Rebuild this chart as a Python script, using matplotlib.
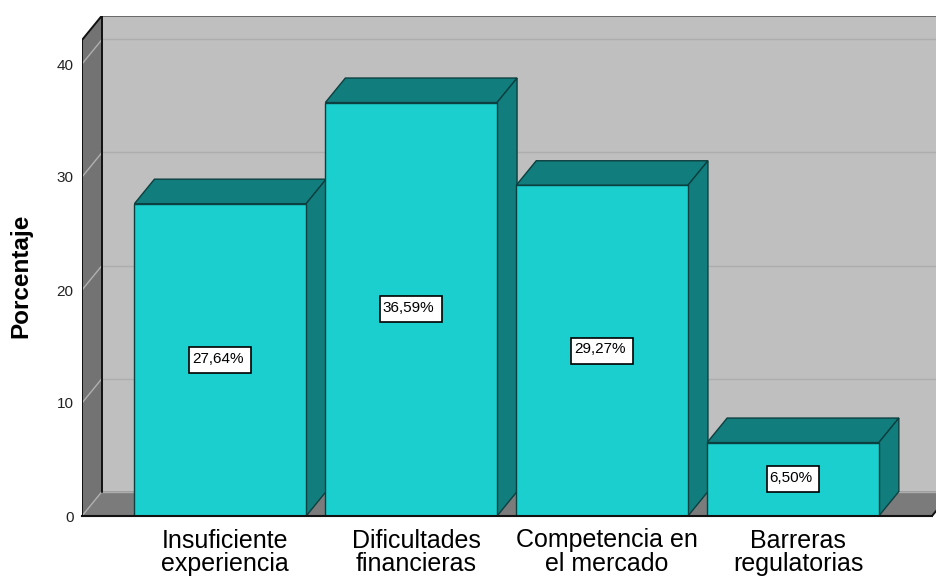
import matplotlib
matplotlib.use("Agg")
import matplotlib.pyplot as plt
from matplotlib.patches import Rectangle
from matplotlib.transforms import ScaledTranslation

plt.rcParams['font.family'] = ['Liberation Sans', 'DejaVu Sans']

categories = ["Insuficiente\nexperiencia", "Dificultades\nfinancieras",
              "Competencia en\nel mercado", "Barreras\nregulatorias"]
values = [27.64, 36.59, 29.27, 6.50]
value_labels = ["27,64%", "36,59%", "29,27%", "6,50%"]
y_ticks = [0, 10, 20, 30, 40]

W, H = 937, 576
PX_X = 190.9          # pixels per category
PX_Y = 11.3           # pixels per percent
X0_PX, Y0_PX = 220.3, 516.0
LEFT, RIGHT, TOP = 82.0, 937.0, 15.5
DX = 20.0 / PX_X      # depth in data units
DY = 24.5 / PX_Y
BAR_W = 171.7 / PX_X
FRONT_TOP = (Y0_PX - 40.0) / PX_Y
FRONT_R = (932.0 - X0_PX) / PX_X

BAR, BAR_DARK, EDGE = "#1bcfcf", "#127d7d", "#0c3f3f"
WALL, SIDE, FLOOR, GRID = "#bfbfbf", "#737373", "#7b7b7b", "#adadad"

fig = plt.figure(figsize=(W / 100, H / 100), dpi=100, facecolor="white")
ax = fig.add_axes([LEFT / W, 1 - Y0_PX / H, (RIGHT - LEFT) / W, (Y0_PX - TOP) / H])
ax.set_xlim((LEFT - X0_PX) / PX_X, (RIGHT - X0_PX) / PX_X)
ax.set_ylim(0, (Y0_PX - TOP) / PX_Y)
for s in ax.spines.values():
    s.set_visible(False)
xl = ax.get_xlim()[0]
xr = xl + 2 * (FRONT_R - xl)
yt = FRONT_TOP

# walls and floor
ax.fill([xl + DX, xr, xr, xl + DX], [DY, DY, yt + DY, yt + DY], color=WALL, lw=0, zorder=1)
ax.fill([xl, xl + DX, xl + DX, xl], [0, DY, yt + DY, yt], color=SIDE, lw=0, zorder=1)
ax.fill([xl, FRONT_R, FRONT_R + DX, xl + DX], [0, 0, DY, DY], color=FLOOR, lw=0, zorder=1)

# gridlines
for t in y_ticks:
    ax.plot([xl + DX, xr], [t + DY, t + DY], color=GRID, lw=1.0, zorder=1.5)
    ax.plot([xl, xl + DX], [t, t + DY], color="#b0b0b0", lw=1.0, zorder=1.5)

# frame
frame = dict(color="#111111", lw=1.4, zorder=1.8, solid_capstyle="round")
ax.plot([xl, xl, xl + DX, xr], [0, yt, yt + DY, yt + DY], **frame)
ax.plot([xl + DX, xl + DX], [DY, yt + DY], **frame)
ax.plot([FRONT_R, FRONT_R + DX], [0, DY], **frame)

# bars
xs = list(range(len(values)))
for i, (x, v, lab) in enumerate(zip(xs, values, value_labels)):
    z = 3 + i
    x0, x1 = x - BAR_W / 2, x + BAR_W / 2
    ax.fill([x0, x1, x1 + DX, x0 + DX], [v, v, v + DY, v + DY],
            facecolor=BAR_DARK, edgecolor=EDGE, lw=1.0, zorder=z)
    ax.fill([x1, x1 + DX, x1 + DX, x1], [0, DY, v + DY, v],
            facecolor=BAR_DARK, edgecolor=EDGE, lw=1.0, zorder=z)
    ax.bar(x, v, width=BAR_W, color=BAR, edgecolor=EDGE, lw=1.0, zorder=z + 0.1)
    bw, bh = (62 if i < 3 else 52) / PX_X, 26 / PX_Y
    ax.add_patch(Rectangle((x - bw / 2, v / 2 - bh / 2), bw, bh, fc="white", ec="black",
                           lw=1.2, zorder=20))
    ax.text(x - 2.5 / PX_X, v / 2 + 0.1, lab, ha="center", va="center", fontsize=11,
            color="black", zorder=21)

ax.plot([xl, FRONT_R], [0, 0], color="#111111", lw=1.5, zorder=15, clip_on=False)

ax.set_yticks(y_ticks)
ax.tick_params(axis="y", length=0, pad=6, labelsize=11, labelcolor="#222222")
ax.set_xticks(xs)
ax.set_xticklabels(categories, fontsize=18, color="black", linespacing=0.98)
ax.tick_params(axis="x", length=0, pad=9)
shift = ScaledTranslation(5 / 100, 0, fig.dpi_scale_trans)
for t in ax.get_xticklabels():
    t.set_transform(t.get_transform() + shift)

fig.text(21 / W, 1 - 276 / H, "Porcentaje", rotation=90, ha="center", va="center",
         fontsize=17.5, fontweight="bold", color="black")

fig.savefig("out.png", dpi=100, facecolor="white")
